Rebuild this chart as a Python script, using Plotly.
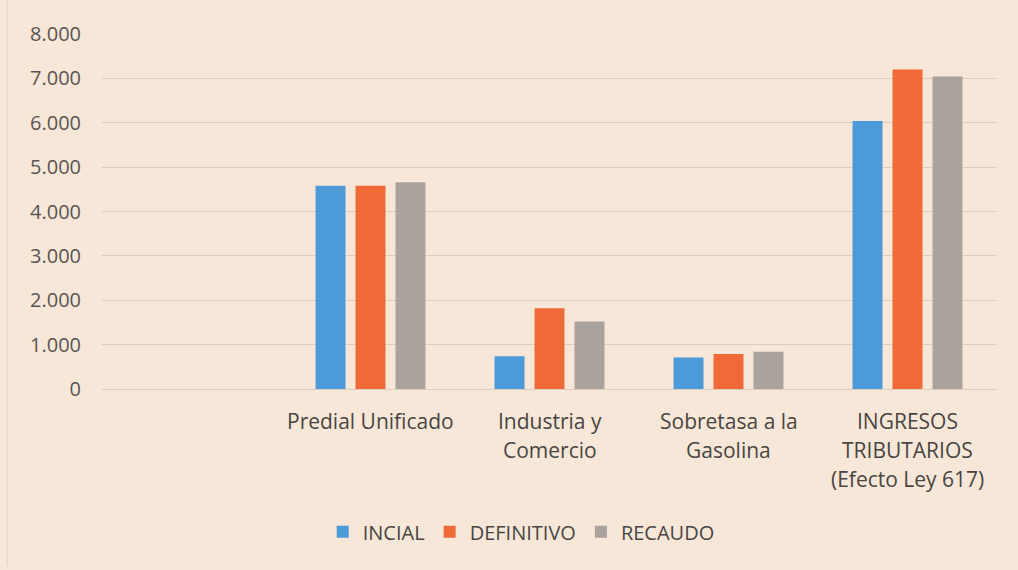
import plotly.graph_objects as go

# Categorías del gráfico (la primera ranura del eje queda vacía)
categorias = [
    "Predial Unificado",
    "Industria y Comercio",
    "Sobretasa a la Gasolina",
    "INGRESOS TRIBUTARIOS (Efecto Ley 617)",
]
# Texto de cada categoría repartido en líneas
etiquetas = [
    ["Predial Unificado"],
    ["Industria y", "Comercio"],
    ["Sobretasa a la", "Gasolina"],
    ["INGRESOS", "TRIBUTARIOS", "(Efecto Ley 617)"],
]

# Valores por serie
inicial = [4580, 740, 710, 6040]
definitivo = [4580, 1820, 790, 7200]
recaudo = [4660, 1520, 840, 7040]

ticks_y = [0, 1000, 2000, 3000, 4000, 5000, 6000, 7000, 8000]

FONDO = "#f6e7d9"
REJILLA = "#dccdbf"
FUENTE = "Open Sans"

fig = go.Figure()
series = [
    ("INCIAL", inicial, "#4c9bd8"),
    ("DEFINITIVO", definitivo, "#ef6a36"),
    ("RECAUDO", recaudo, "#aaa29d"),
]
for nombre, valores, color in series:
    fig.add_trace(go.Bar(
        name=nombre, x=categorias, y=valores,
        marker=dict(color=color, line=dict(width=0)),
    ))

# Etiquetas de categoría, una anotación por línea
for cat, lineas in zip(categorias, etiquetas):
    for i, linea in enumerate(lineas):
        fig.add_annotation(
            x=cat, xref="x", y=0, yref="paper",
            yanchor="middle", yshift=-32 - 29 * i,
            text=linea, showarrow=False,
            font=dict(family=FUENTE, size=21, color="#4a4542"),
        )

# Borde vertical tenue a la izquierda
fig.add_shape(
    type="line", xref="paper", yref="paper",
    x0=-0.106, x1=-0.106, y0=-0.5, y1=1.1,
    line=dict(color="#e2d3c5", width=1),
)

fig.update_layout(
    width=1018, height=570,
    margin=dict(l=102, r=21, t=34, b=181),
    paper_bgcolor=FONDO, plot_bgcolor=FONDO,
    separators=",.",
    barmode="group", bargap=0.33, bargroupgap=0.25,
    showlegend=True,
    legend=dict(
        orientation="h", xref="container", yref="container",
        x=0.512, xanchor="center", y=0.067, yanchor="middle",
        font=dict(family=FUENTE, size=20, color="#4a4542"),
        itemsizing="constant", traceorder="normal",
        bgcolor="rgba(0,0,0,0)",
    ),
    font=dict(family=FUENTE),
)

fig.update_xaxes(
    type="category", categoryorder="array", categoryarray=categorias,
    range=[-1.5, 3.5], showticklabels=False, showgrid=False,
    zeroline=False, showline=False, ticks="",
)
fig.update_yaxes(
    range=[0, 8000], tickvals=ticks_y, tickformat=",d",
    showgrid=True, gridcolor=REJILLA, gridwidth=1,
    zeroline=True, zerolinecolor=REJILLA, zerolinewidth=1,
    showline=False, ticks="", ticklabelstandoff=20,
    tickfont=dict(family=FUENTE, size=20, color="#5a5552"),
)

fig.write_html("out.html")
